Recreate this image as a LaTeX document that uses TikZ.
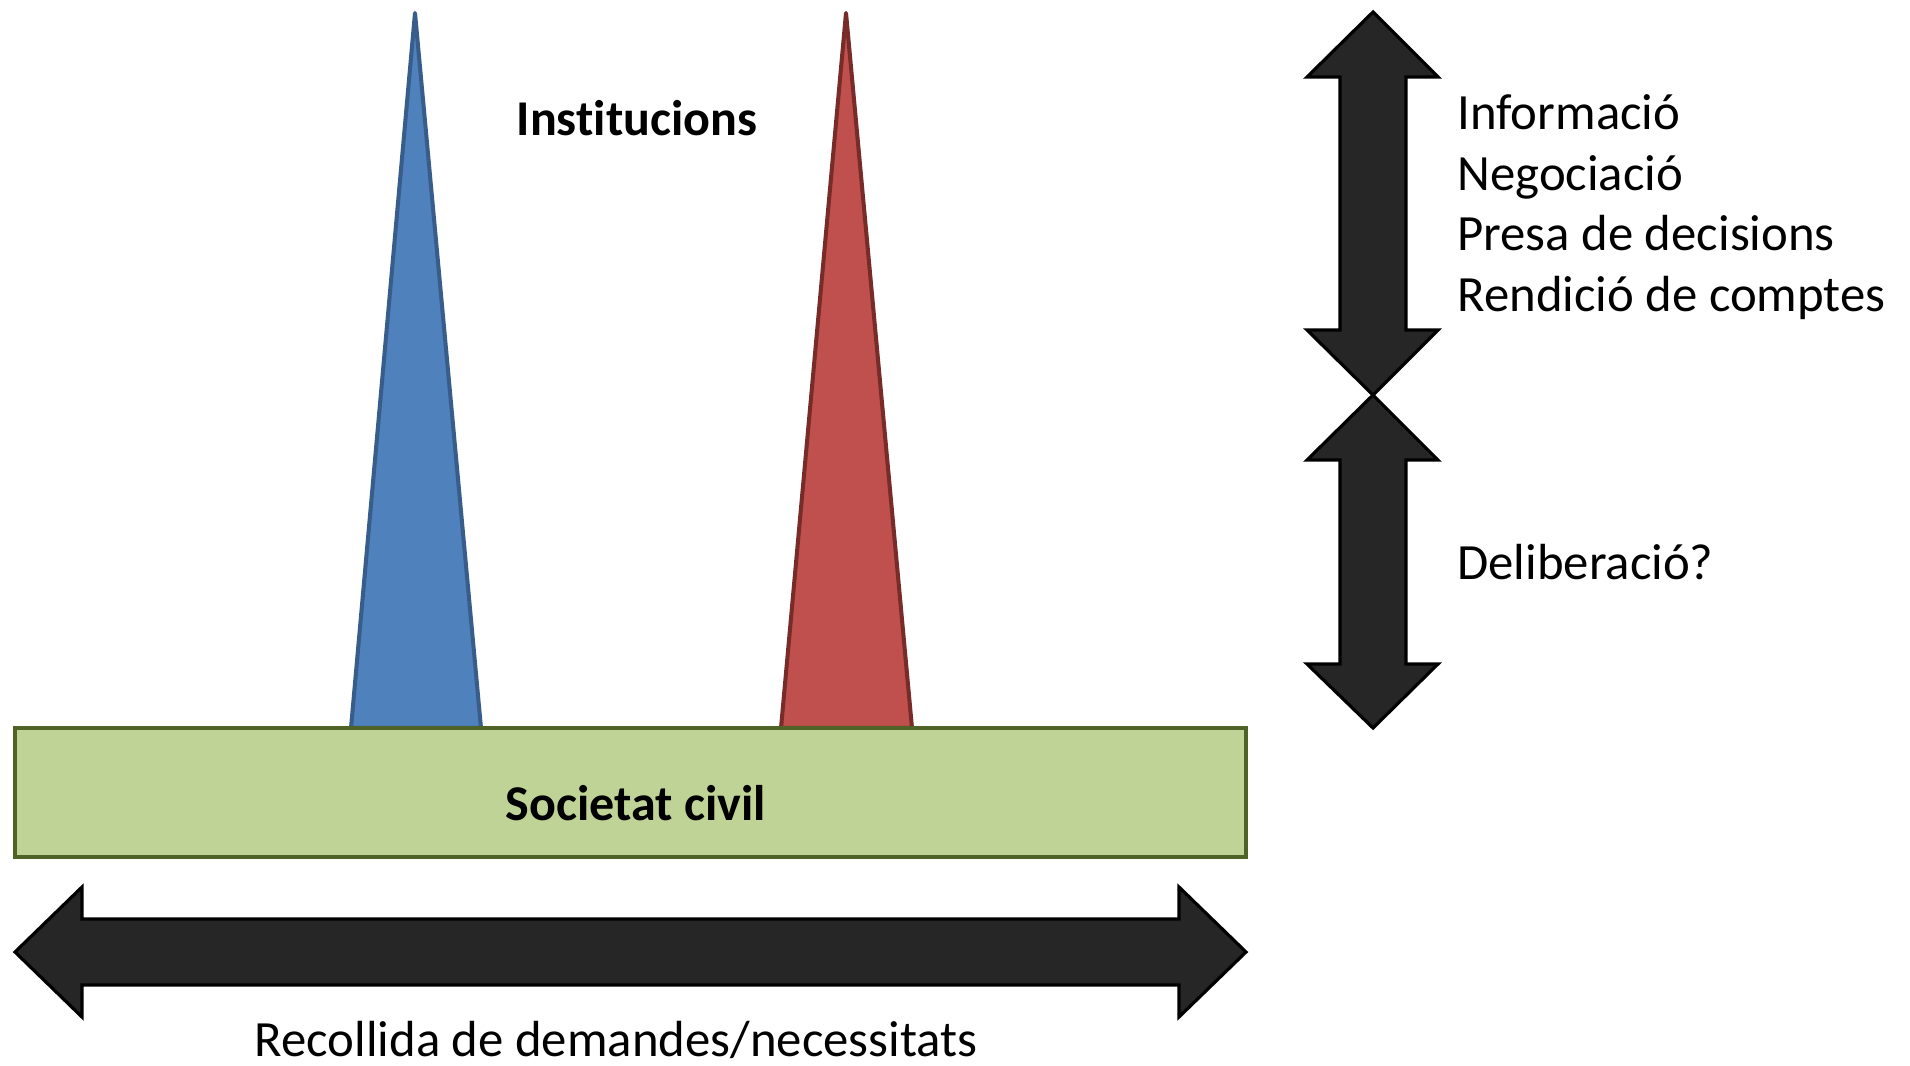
\documentclass[tikz,border=0pt]{standalone}
\usepackage{fontspec}
\setmainfont{Carlito}[Ligatures=NoCommon]
\usetikzlibrary{positioning}

\definecolor{instblue}{HTML}{4F81BD}
\definecolor{instblueline}{HTML}{385D8A}
\definecolor{instred}{HTML}{C0504D}
\definecolor{instredline}{HTML}{772C2A}
\definecolor{civilgreen}{HTML}{C0D396}
\definecolor{civilline}{HTML}{4F6228}
\definecolor{arrowgray}{HTML}{262626}

\begin{document}
\begin{tikzpicture}[x=0.02cm,y=-0.02cm]

    \tikzstyle{peak} = [line width=2.3pt, line join=round]
    \tikzstyle{civil} = [draw=civilline, fill=civilgreen, line width=2.6pt,
        minimum width=24.62cm, minimum height=2.58cm, inner sep=0pt]
    \tikzstyle{blockarrow} = [draw=black, fill=arrowgray, line width=1.8pt]
    \tikzstyle{lbl} = [font=\fontsize{28.9}{34.5}\selectfont, inner sep=0pt]
    \tikzstyle{title} = [lbl, font=\fontsize{28.5}{34.5}\selectfont\bfseries]

    \useasboundingbox (0,0) rectangle (1910,1065);

    % Institutions (peaks)
    \draw[peak, fill=instblue, draw=instblueline] (415,13) -- (481,728) -- (351,728) -- cycle;
    \draw[peak, fill=instred, draw=instredline] (846,13) -- (912,728) -- (781,728) -- cycle;
    \node[title, anchor=base] (inst) at (637,135) {Institucions};

    % Civil society
    \node[civil] (civ) at (630.5,792.5) {};
    \node[title, anchor=base] (civtext) at (636,820) {Societat civil};

    % Horizontal arrow
    \draw[blockarrow] (15,952) -- (82,887) -- (82,919) -- (1179,919) -- (1179,887)
        -- (1246,952) -- (1179,1017) -- (1179,985) -- (82,985) -- (82,1017) -- cycle;
    \node[lbl, anchor=base] (recoll) at (616,1056) {Recollida de demandes/necessitats};

    % Vertical arrows
    \draw[blockarrow] (1373,12) -- (1438,77) -- (1406,77) -- (1406,330) -- (1438,330)
        -- (1373,395) -- (1307,330) -- (1340,330) -- (1340,77) -- (1307,77) -- cycle;
    \draw[blockarrow] (1373,395) -- (1438,460) -- (1406,460) -- (1406,664) -- (1438,664)
        -- (1373,728) -- (1307,664) -- (1340,664) -- (1340,460) -- (1307,460) -- cycle;

    % Functions
    \node[lbl, anchor=base west] (info) at (1457,129) {Informació};
    \node[lbl, anchor=base west] (nego) at (1457,190) {Negociació};
    \node[lbl, anchor=base west] (presa) at (1457,250) {Presa de decisions};
    \node[lbl, anchor=base west] (rend) at (1457,311) {Rendició de comptes};
    \node[lbl, anchor=base west] (delib) at (1457,579) {Deliberació?};

\end{tikzpicture}
\end{document}
